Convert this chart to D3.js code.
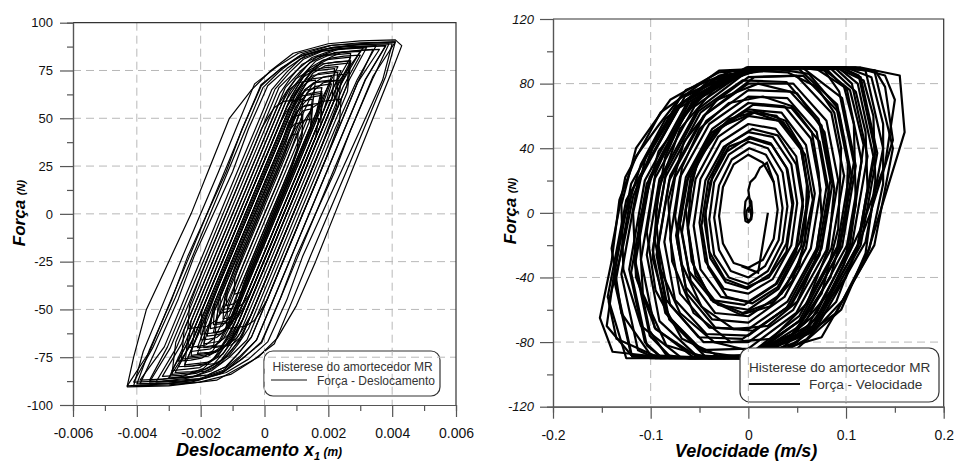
<!DOCTYPE html>
<html>
<head>
<meta charset="utf-8">
<script src="https://cdn.jsdelivr.net/npm/d3@7"></script>
<style>
  body { margin: 0; background: #fff; }
  text { font-family: "Liberation Sans", Arial, sans-serif; }
</style>
</head>
<body>
<div id="chart"></div>
<script>
var w = 956;
var h = 461;

// axis ticks
var dispTicks = [-0.006, -0.004, -0.002, 0, 0.002, 0.004, 0.006];
var dispMinor = [-0.005, -0.003, -0.001, 0.001, 0.003, 0.005];
var dispGrid = [-0.004, -0.002, 0, 0.002, 0.004];
var forceTicksL = [-100, -75, -50, -25, 0, 25, 50, 75, 100];
var forceMinorL = [-87.5, -62.5, -37.5, -12.5, 12.5, 37.5, 62.5, 87.5];
var forceGridL = [-75, -50, -25, 0, 25, 50, 75];

var velTicks = [-0.2, -0.1, 0, 0.1, 0.2];
var velMinor = [-0.15, -0.05, 0.05, 0.15];
var velGrid = [-0.1, 0, 0.1];
var forceTicksR = [-120, -80, -40, 0, 40, 80, 120];
var forceMinorR = [-100, -60, -20, 20, 60, 100];
var forceGridR = [-80, -40, 0, 40, 80];

// força x deslocamento loops [x1 (m), F (N)]
var dispLoops = [
  [[-0.0043,-90],[-0.0041,-75],[-0.0037,-50],[-0.0030,-25],[-0.0023,0],[-0.0017,25],[-0.0011,50],[-0.0004,65],[0.0002,75],[0.0009,84],[0.0020,89],[0.0030,90.5],[0.0041,91],[0.0043,88],[0.0040,75],[0.0034,50],[0.0028,25],[0.0022,0],[0.0016,-25],[0.0010,-48],[0.0004,-65],[-0.0002,-75],[-0.0015,-87],[-0.0030,-90],[-0.0043,-90.5]],
  [[-0.0041,-90],[-0.0038,-72],[-0.00313,-45],[-0.00256,-22],[-0.0020,0],[-0.00144,22],[-0.00088,45],[-0.00031,68],[0.00039,77],[0.00106,84],[0.00203,88],[0.00299,89.5],[0.0041,90],[0.0038,72],[0.00313,45],[0.00256,22],[0.0020,0],[0.00144,-22],[0.00088,-45],[0.00031,-68],[-0.00039,-77],[-0.00106,-84],[-0.00203,-88],[-0.00299,-89.5]],
  [[-0.0040,-89],[-0.0036,-71],[-0.0029,-44.5],[-0.0024,-22],[-0.0018,0],[-0.0012,22],[-0.0007,44.5],[-0.0001,67],[0.0005,76],[0.0012,83],[0.0021,87],[0.0030,88.5],[0.0040,89],[0.0037,70],[0.0030,44],[0.0024,22],[0.0018,0],[0.0012,-22],[0.0007,-45],[0.0001,-67],[-0.0005,-76],[-0.0012,-83],[-0.0021,-87],[-0.0030,-88.5]],
  [[-0.0039,-89],[-0.0034,-71],[-0.0027,-44.5],[-0.0022,-22],[-0.0016,0],[-0.0010,22],[-0.0005,44.5],[0.0001,67],[0.0007,76],[0.0013,83],[0.0021,87],[0.0029,88.5],[0.0039,89],[0.0034,71],[0.0027,44],[0.0022,22],[0.0016,0],[0.0010,-22],[0.0005,-44],[-0.0001,-67],[-0.0007,-76],[-0.0013,-83],[-0.0021,-87],[-0.0029,-88.5]],
  [[-0.0041,-88],[-0.0035,-70],[-0.0028,-44],[-0.00225,-22],[-0.0017,0],[-0.00115,22],[-0.0006,44],[-0.00005,66],[0.0005,75],[0.00105,82],[0.0018,86],[0.0026,87.5],[0.0035,88],[0.0029,70],[0.0022,44],[0.00165,22],[0.0011,0],[0.00055,-22],[0.0,-44],[-0.00055,-66],[-0.0011,-75],[-0.00165,-82],[-0.0024,-86],[-0.0032,-87.5]],
  [[-0.0034,-88],[-0.00276,-70],[-0.0021,-44],[-0.00155,-22],[-0.0010,0],[-0.00045,22],[0.0001,44],[0.00065,66],[0.00115,75],[0.00163,82],[0.0023,86],[0.0030,87.5],[0.0038,88],[0.00316,70],[0.0025,44],[0.00195,22],[0.0014,0],[0.00085,-22],[0.0003,-44],[-0.00025,-66],[-0.00075,-75],[-0.00123,-82],[-0.0019,-86],[-0.0026,-87.5]],
  [[-0.0039,-87],[-0.00314,-69.6],[-0.00249,-43.5],[-0.00194,-21.75],[-0.0014,0],[-0.00086,21.75],[-0.00031,43.5],[0.00023,65],[0.00069,74],[0.00112,81],[0.00175,85],[0.00238,86.5],[0.0031,87],[0.00234,69.6],[0.00169,43.5],[0.00114,21.75],[0.0006,0],[0.00006,-21.75],[-0.00049,-43.5],[-0.00103,-65],[-0.00149,-74],[-0.00192,-81],[-0.00255,-85],[-0.00318,-86.5]],
  [[-0.0030,-86],[-0.00232,-68.8],[-0.00168,-43],[-0.00114,-21.5],[-0.0006,0],[-0.00006,21.5],[0.00048,43],[0.00101,64.5],[0.00142,73],[0.00181,80],[0.00238,84.3],[0.00295,85.5],[0.0036,86],[0.00292,68.8],[0.00228,43],[0.00174,21.5],[0.0012,0],[0.00066,-21.5],[0.00013,-43],[-0.00041,-64.5],[-0.00082,-73],[-0.00121,-80],[-0.00178,-84.3],[-0.00235,-85.5]],
  [[-0.0032,-85],[-0.0026,-68],[-0.00196,-42.5],[-0.00143,-21.25],[-0.0009,0],[-0.00037,21.25],[0.00016,42.5],[0.00069,63.75],[0.00106,72.25],[0.00141,79],[0.00191,83.3],[0.00242,84.5],[0.0030,85],[0.0024,68],[0.00176,42.5],[0.00123,21.25],[0.0007,0],[0.00017,-21.25],[-0.00036,-42.5],[-0.00089,-63.75],[-0.00126,-72.25],[-0.00161,-79],[-0.00211,-83.3],[-0.00262,-84.5]],
  [[-0.0028,-83],[-0.00226,-66.4],[-0.00164,-41.5],[-0.00112,-20.75],[-0.0006,0],[-0.00008,20.75],[0.00044,41.5],[0.00096,62.25],[0.00129,70.5],[0.00159,77.2],[0.00204,81.3],[0.00249,82.5],[0.0030,83],[0.00246,66.4],[0.00184,41.5],[0.00132,20.75],[0.0008,0],[0.00028,-20.75],[-0.00024,-41.5],[-0.00076,-62.25],[-0.00109,-70.5],[-0.00139,-77.2],[-0.00184,-81.3],[-0.00229,-82.5]],
  [[-0.0027,-80],[-0.0022,-64],[-0.0016,-40],[-0.0011,-20],[-0.0006,0],[-0.0001,20],[0.0004,40],[0.0009,60],[0.00119,68],[0.00146,74.4],[0.00185,78.4],[0.00225,79.5],[0.0027,80],[0.0022,64],[0.0016,40],[0.0011,20],[0.0006,0],[0.0001,-20],[-0.0004,-40],[-0.0009,-60],[-0.00119,-68],[-0.00146,-74.4],[-0.00185,-78.4],[-0.00225,-79.5]],
  [[-0.0027,-77],[-0.00224,-61.6],[-0.00166,-38.5],[-0.00118,-19.25],[-0.0007,0],[-0.00022,19.25],[0.00026,38.5],[0.00074,57.75],[0.00099,65.5],[0.00122,71.6],[0.00157,75.5],[0.00191,76.5],[0.0023,77],[0.00184,61.6],[0.00126,38.5],[0.00078,19.25],[0.0003,0],[-0.00018,-19.25],[-0.00066,-38.5],[-0.00114,-57.75],[-0.00139,-65.5],[-0.00162,-71.6],[-0.00197,-75.5],[-0.00231,-76.5]],
  [[-0.0021,-73],[-0.00176,-58.4],[-0.00121,-36.5],[-0.00076,-18.25],[-0.0003,0],[0.00016,18.25],[0.00061,36.5],[0.00107,54.75],[0.0013,62],[0.00151,67.9],[0.00183,71.5],[0.00214,72.5],[0.0025,73],[0.00216,58.4],[0.00161,36.5],[0.00116,18.25],[0.0007,0],[0.00024,-18.25],[-0.00021,-36.5],[-0.00067,-54.75],[-0.0009,-62],[-0.00111,-67.9],[-0.00143,-71.5],[-0.00174,-72.5]],
  [[-0.0021,-70],[-0.0018,-56],[-0.00128,-35],[-0.00084,-17.5],[-0.0004,0],[0.00004,17.5],[0.00048,35],[0.00091,52.5],[0.0011,59.5],[0.00128,65.1],[0.00154,68.6],[0.0018,69.5],[0.0021,70],[0.0018,56],[0.00128,35],[0.00084,17.5],[0.0004,0],[-0.00004,-17.5],[-0.00048,-35],[-0.00091,-52.5],[-0.0011,-59.5],[-0.00128,-65.1],[-0.00154,-68.6],[-0.0018,-69.5]],
  [[-0.0020,-66],[-0.00182,-52.8],[-0.00133,-33],[-0.00091,-16.5],[-0.0005,0],[-0.00009,16.5],[0.00033,33],[0.00074,49.5],[0.00091,56.1],[0.00107,61.4],[0.0013,64.7],[0.00154,65.5],[0.0018,66],[0.00162,52.8],[0.00113,33],[0.00071,16.5],[0.0003,0],[-0.00011,-16.5],[-0.00053,-33],[-0.00094,-49.5],[-0.00111,-56.1],[-0.00127,-61.4],[-0.0015,-64.7],[-0.00174,-65.5]],
  [[-0.0016,-62],[-0.00144,-49.6],[-0.00098,-31],[-0.00059,-15.5],[-0.0002,0],[0.00019,15.5],[0.00058,31],[0.00096,46.5],[0.00109,52.7],[0.00122,57.7],[0.00141,60.8],[0.00159,61.5],[0.0018,62],[0.00164,49.6],[0.00118,31],[0.00079,15.5],[0.0004,0],[0.00001,-15.5],[-0.00038,-31],[-0.00076,-46.5],[-0.00089,-52.7],[-0.00102,-57.7],[-0.00121,-60.8],[-0.00139,-61.5]],
  [[-0.0015,-57],[-0.00144,-45.6],[-0.00101,-28.5],[-0.00066,-14.25],[-0.0003,0],[0.00006,14.25],[0.00041,28.5],[0.00077,42.75],[0.00089,48.5],[0.001,53],[0.00116,55.9],[0.00132,56.5],[0.0015,57],[0.00144,45.6],[0.00101,28.5],[0.00066,14.25],[0.0003,0],[-0.00006,-14.25],[-0.00041,-28.5],[-0.00077,-42.75],[-0.00089,-48.5],[-0.001,-53],[-0.00116,-55.9],[-0.00132,-56.5]],
  [[-0.0014,-52],[-0.00138,-41.6],[-0.00105,-26],[-0.00073,-13],[-0.0004,0],[-0.00008,13],[0.00025,26],[0.00058,39],[0.00068,44.2],[0.00077,48.4],[0.00091,51],[0.00105,51.5],[0.0012,52],[0.00118,41.6],[0.00085,26],[0.00053,13],[0.0002,0],[-0.00013,-13],[-0.00045,-26],[-0.00078,-39],[-0.00088,-44.2],[-0.00097,-48.4],[-0.00111,-51],[-0.00125,-51.5]],
  [[-0.0043,-90],[-0.0036,-72],[-0.00293,-45],[-0.00236,-22.5],[-0.0018,0],[-0.00124,22.5],[-0.00068,45],[-0.00011,67.5],[0.00056,76.5],[0.00119,83.7],[0.00212,88.2],[0.00305,89.1],[0.0041,90],[0.0034,72],[0.00273,45],[0.00216,22.5],[0.0016,0],[0.00104,-22.5],[0.00048,-45],[-0.00009,-67.5],[-0.00076,-76.5],[-0.00139,-83.7],[-0.00232,-88.2],[-0.00325,-89.1]],
  [[-0.0036,-88],[-0.00296,-70.4],[-0.0023,-44],[-0.00175,-22],[-0.0012,0],[-0.00065,22],[-0.0001,44],[0.00045,66],[0.00099,74.8],[0.00149,81.8],[0.00223,86.2],[0.00296,87.1],[0.0038,88],[0.00316,70.4],[0.0025,44],[0.00195,22],[0.0014,0],[0.00085,-22],[0.0003,-44],[-0.00025,-66],[-0.00079,-74.8],[-0.00129,-81.8],[-0.00203,-86.2],[-0.00276,-87.1]],
  [[-0.0036,-87],[-0.00304,-69.6],[-0.00239,-43.5],[-0.00184,-21.75],[-0.0013,0],[-0.00076,21.75],[-0.00021,43.5],[0.00033,65.25],[0.00079,74],[0.00122,80.9],[0.00185,85.3],[0.00248,86.1],[0.0032,87],[0.00264,69.6],[0.00199,43.5],[0.00144,21.75],[0.0009,0],[0.00036,-21.75],[-0.00019,-43.5],[-0.00073,-65.25],[-0.00119,-74],[-0.00162,-80.9],[-0.00225,-85.3],[-0.00288,-86.1]],
  [[-0.0030,-86],[-0.00252,-68.8],[-0.00188,-43],[-0.00134,-21.5],[-0.0008,0],[-0.00026,21.5],[0.00028,43],[0.00081,64.5],[0.00122,73.1],[0.00161,80],[0.00218,84.3],[0.00275,85.1],[0.0034,86],[0.00292,68.8],[0.00228,43],[0.00174,21.5],[0.0012,0],[0.00066,-21.5],[0.00013,-43],[-0.00041,-64.5],[-0.00082,-73.1],[-0.00121,-80],[-0.00178,-84.3],[-0.00235,-85.1]],
  [[-0.0029,-82],[-0.00234,-65.6],[-0.00173,-41],[-0.00121,-20.5],[-0.0007,0],[-0.00019,20.5],[0.00033,41],[0.00084,61.5],[0.00114,69.7],[0.00142,76.3],[0.00183,80.4],[0.00224,81.2],[0.0027,82],[0.00214,65.6],[0.00153,41],[0.00101,20.5],[0.0005,0],[-0.00001,-20.5],[-0.00053,-41],[-0.00104,-61.5],[-0.00134,-69.7],[-0.00162,-76.3],[-0.00203,-80.4],[-0.00244,-81.2]],
  [[-0.0025,-79],[-0.00208,-63.2],[-0.00149,-39.5],[-0.00099,-19.75],[-0.0005,0],[-0.00001,19.75],[0.00049,39.5],[0.00098,59.25],[0.00126,67.2],[0.00151,73.5],[0.00189,77.4],[0.00227,78.2],[0.0027,79],[0.00228,63.2],[0.00169,39.5],[0.00119,19.75],[0.0007,0],[0.00021,-19.75],[-0.00029,-39.5],[-0.00078,-59.25],[-0.00106,-67.2],[-0.00131,-73.5],[-0.00169,-77.4],[-0.00207,-78.2]],
  [[-0.0024,-75],[-0.002,-60],[-0.00144,-37.5],[-0.00097,-18.75],[-0.0005,0],[-0.00003,18.75],[0.00044,37.5],[0.00091,56.25],[0.00115,63.75],[0.00137,69.75],[0.0017,73.5],[0.00203,74.25],[0.0024,75],[0.002,60],[0.00144,37.5],[0.00097,18.75],[0.0005,0],[0.00003,-18.75],[-0.00044,-37.5],[-0.00091,-56.25],[-0.00115,-63.75],[-0.00137,-69.75],[-0.0017,-73.5],[-0.00203,-74.25]],
  [[-0.0023,-72],[-0.00199,-57.6],[-0.00145,-36],[-0.001,-18],[-0.00055,0],[-0.0001,18],[0.00035,36],[0.0008,54],[0.00101,61.2],[0.0012,67],[0.00149,70.6],[0.00178,71.3],[0.0021,72],[0.00179,57.6],[0.00125,36],[0.0008,18],[0.00035,0],[-0.0001,-18],[-0.00055,-36],[-0.001,-54],[-0.00121,-61.2],[-0.0014,-67],[-0.00169,-70.6],[-0.00198,-71.3]],
  [[-0.0019,-68],[-0.00166,-54.4],[-0.00115,-34],[-0.00073,-17],[-0.0003,0],[0.00013,17],[0.00055,34],[0.00098,51],[0.00116,57.8],[0.00133,63.2],[0.00158,66.6],[0.00182,67.3],[0.0021,68],[0.00186,54.4],[0.00135,34],[0.00093,17],[0.0005,0],[0.00008,-17],[-0.00035,-34],[-0.00078,-51],[-0.00096,-57.8],[-0.00113,-63.2],[-0.00138,-66.6],[-0.00162,-67.3]],
  [[-0.0018,-64],[-0.00163,-51.2],[-0.00115,-32],[-0.00075,-16],[-0.00035,0],[0.00005,16],[0.00045,32],[0.00085,48],[0.001,54.4],[0.00114,59.5],[0.00135,62.7],[0.00156,63.4],[0.0018,64],[0.00163,51.2],[0.00115,32],[0.00075,16],[0.00035,0],[-0.00005,-16],[-0.00045,-32],[-0.00085,-48],[-0.001,-54.4],[-0.00114,-59.5],[-0.00135,-62.7],[-0.00156,-63.4]],
  [[-0.0017,-60],[-0.0016,-48],[-0.00115,-30],[-0.00078,-15],[-0.0004,0],[-0.00003,15],[0.00035,30],[0.00073,45],[0.00085,51],[0.00097,55.8],[0.00114,58.8],[0.00131,59.4],[0.0015,60],[0.0014,48],[0.00095,30],[0.00058,15],[0.0002,0],[-0.00018,-15],[-0.00055,-30],[-0.00093,-45],[-0.00105,-51],[-0.00117,-55.8],[-0.00134,-58.8],[-0.00151,-59.4]],
  [[-0.0013,-55],[-0.00125,-44],[-0.00084,-27.5],[-0.00049,-13.75],[-0.00015,0],[0.00019,13.75],[0.00054,27.5],[0.00088,41.25],[0.00098,46.75],[0.00107,51.2],[0.00121,53.9],[0.00135,54.5],[0.0015,55],[0.00145,44],[0.00104,27.5],[0.00069,13.75],[0.00035,0],[0.00001,-13.75],[-0.00034,-27.5],[-0.00068,-41.25],[-0.00078,-46.75],[-0.00087,-51.2],[-0.00101,-53.9],[-0.00115,-54.5]],
  [[-0.0012,-48],[-0.00116,-38.4],[-0.00085,-24],[-0.00055,-12],[-0.00025,0],[0.00005,12],[0.00035,24],[0.00065,36],[0.00074,40.8],[0.00082,44.6],[0.00094,47],[0.00106,47.5],[0.0012,48],[0.00116,38.4],[0.00085,24],[0.00055,12],[0.00025,0],[-0.00005,-12],[-0.00035,-24],[-0.00065,-36],[-0.00074,-40.8],[-0.00082,-44.6],[-0.00094,-47],[-0.00106,-47.5]],
  [[-0.00095,-42],[-0.00093,-33.6],[-0.00068,-21],[-0.00041,-10.5],[-0.00015,0],[0.00011,10.5],[0.00038,21],[0.00064,31.5],[0.00071,35.7],[0.00077,39],[0.00086,41.2],[0.00095,41.6],[0.00105,42],[0.00103,33.6],[0.00078,21],[0.00051,10.5],[0.00025,0],[-0.00001,-10.5],[-0.00028,-21],[-0.00054,-31.5],[-0.00061,-35.7],[-0.00067,-39],[-0.00076,-41.2],[-0.00085,-41.6]],
  [[-0.0026,-76],[-0.00252,-60.8],[-0.00195,-38],[-0.00148,-19],[-0.001,0],[-0.00053,19],[-0.00005,38],[0.00043,57],[0.00071,64.6],[0.00098,70.7],[0.00137,74.5],[0.00176,75.2],[0.0022,76],[0.00212,60.8],[0.00155,38],[0.00108,19],[0.0006,0],[0.00013,-19],[-0.00035,-38],[-0.00083,-57],[-0.00111,-64.6],[-0.00138,-70.7],[-0.00177,-74.5],[-0.00216,-75.2]],
  [[-0.0019,-70],[-0.00185,-56],[-0.00138,-35],[-0.00094,-17.5],[-0.0005,0],[-0.00006,17.5],[0.00038,35],[0.00081,52.5],[0.00105,59.5],[0.00127,65.1],[0.0016,68.6],[0.00193,69.3],[0.0023,70],[0.00225,56],[0.00178,35],[0.00134,17.5],[0.0009,0],[0.00046,-17.5],[0.00003,-35],[-0.00041,-52.5],[-0.00065,-59.5],[-0.00087,-65.1],[-0.0012,-68.6],[-0.00153,-69.3]],
  [[-0.002,-63],[-0.00196,-50.4],[-0.00149,-31.5],[-0.00109,-15.75],[-0.0007,0],[-0.00031,15.75],[0.00009,31.5],[0.00048,47.25],[0.00069,53.55],[0.00089,58.6],[0.00118,61.7],[0.00147,62.4],[0.0018,63],[0.00176,50.4],[0.00129,31.5],[0.00089,15.75],[0.0005,0],[0.00011,-15.75],[-0.00029,-31.5],[-0.00068,-47.25],[-0.00089,-53.55],[-0.00109,-58.6],[-0.00138,-61.7],[-0.00167,-62.4]],
  [[-0.0016,-58],[-0.00156,-46.4],[-0.00113,-29],[-0.00076,-14.5],[-0.0004,0],[-0.00004,14.5],[0.00033,29],[0.00069,43.5],[0.00087,49.3],[0.00103,53.9],[0.00128,56.8],[0.00152,57.4],[0.0018,58],[0.00176,46.4],[0.00133,29],[0.00096,14.5],[0.0006,0],[0.00024,-14.5],[-0.00013,-29],[-0.00049,-43.5],[-0.00067,-49.3],[-0.00083,-53.9],[-0.00108,-56.8],[-0.00132,-57.4]],
  [[-0.0025,-80],[-0.0024,-64],[-0.0018,-40],[-0.0013,-20],[-0.0008,0],[-0.0003,20],[0.0002,40],[0.0007,60],[0.00102,68],[0.00132,74.4],[0.00176,78.4],[0.0022,79.2],[0.0027,80],[0.0026,64],[0.002,40],[0.0015,20],[0.001,0],[0.0005,-20],[0.0,-40],[-0.0005,-60],[-0.00082,-68],[-0.00112,-74.4],[-0.00156,-78.4],[-0.002,-79.2]],
  [[-0.0029,-84],[-0.00278,-67.2],[-0.00215,-42],[-0.00163,-21],[-0.0011,0],[-0.00058,21],[-0.00005,42],[0.00048,63],[0.00083,71.4],[0.00117,78.1],[0.00166,82.3],[0.00214,83.2],[0.0027,84],[0.00258,67.2],[0.00195,42],[0.00143,21],[0.0009,0],[0.00038,-21],[-0.00015,-42],[-0.00068,-63],[-0.00103,-71.4],[-0.00137,-78.1],[-0.00186,-82.3],[-0.00234,-83.2]],
  [[-0.0023,-74],[-0.00218,-59.2],[-0.00163,-37],[-0.00116,-18.5],[-0.0007,0],[-0.00024,18.5],[0.00023,37],[0.00069,55.5],[0.00095,62.9],[0.00119,68.8],[0.00154,72.5],[0.0019,73.3],[0.0023,74],[0.00218,59.2],[0.00163,37],[0.00116,18.5],[0.0007,0],[0.00024,-18.5],[-0.00023,-37],[-0.00069,-55.5],[-0.00095,-62.9],[-0.00119,-68.8],[-0.00154,-72.5],[-0.0019,-73.3]],
  [[-0.0012,-60],[-0.00115,-48],[-0.00075,-30],[-0.00038,-15],[0.0,0],[0.00038,15],[0.00075,30],[0.00113,45],[0.00133,51],[0.00152,55.8],[0.0018,58.8],[0.00208,59.4],[0.0024,60],[0.00235,48],[0.00195,30],[0.00158,15],[0.0012,0],[0.00083,-15],[0.00045,-30],[0.00008,-45],[-0.00013,-51],[-0.00032,-55.8],[-0.0006,-58.8],[-0.00088,-59.4]],
  [[-0.0024,-60],[-0.00235,-48],[-0.00195,-30],[-0.00158,-15],[-0.0012,0],[-0.00083,15],[-0.00045,30],[-0.00008,45],[0.00013,51],[0.00032,55.8],[0.0006,58.8],[0.00088,59.4],[0.0012,60],[0.00115,48],[0.00075,30],[0.00038,15],[0.0,0],[-0.00038,-15],[-0.00075,-30],[-0.00113,-45],[-0.00133,-51],[-0.00152,-55.8],[-0.0018,-58.8],[-0.00208,-59.4]],
  [[-0.0016,-70],[-0.0015,-56],[-0.00098,-35],[-0.00054,-17.5],[-0.0001,0],[0.00034,17.5],[0.00078,35],[0.00121,52.5],[0.0014,59.5],[0.00158,65.1],[0.00184,68.6],[0.0021,69.3],[0.0024,70],[0.0023,56],[0.00178,35],[0.00134,17.5],[0.0009,0],[0.00046,-17.5],[0.00003,-35],[-0.00041,-52.5],[-0.0006,-59.5],[-0.00078,-65.1],[-0.00104,-68.6],[-0.0013,-69.3]],
  [[-0.0024,-70],[-0.0023,-56],[-0.00178,-35],[-0.00134,-17.5],[-0.0009,0],[-0.00046,17.5],[-0.00003,35],[0.00041,52.5],[0.0006,59.5],[0.00078,65.1],[0.00104,68.6],[0.0013,69.3],[0.0016,70],[0.0015,56],[0.00098,35],[0.00054,17.5],[0.0001,0],[-0.00034,-17.5],[-0.00078,-35],[-0.00121,-52.5],[-0.0014,-59.5],[-0.00158,-65.1],[-0.00184,-68.6],[-0.0021,-69.3]],
  [[-0.0013,-50],[-0.0012,-40],[-0.00083,-25],[-0.00051,-12.5],[-0.0002,0],[0.00011,12.5],[0.00043,25],[0.00074,37.5],[0.00089,42.5],[0.00104,46.5],[0.00125,49],[0.00146,49.5],[0.0017,50],[0.0016,40],[0.00123,25],[0.00091,12.5],[0.0006,0],[0.00029,-12.5],[-0.00003,-25],[-0.00034,-37.5],[-0.00049,-42.5],[-0.00064,-46.5],[-0.00085,-49],[-0.00106,-49.5]]
];

// força x velocidade loops [v (m/s), F (N)]
var velLoops = [
  [[0.030,2],[0.026,19],[0.015,31],[0.000,36],[-0.015,30],[-0.026,16],[-0.030,-2],[-0.026,-19],[-0.015,-31],[0.000,-34],[0.015,-29],[0.026,-16]],
  [[0.035,3],[0.030,23],[0.018,36],[0.001,40],[-0.017,33],[-0.030,17],[-0.035,-3],[-0.030,-23],[-0.018,-36],[0.000,-40],[0.017,-33],[0.031,-17]],
  [[0.040,4],[0.035,25],[0.020,40],[0.000,44],[-0.020,36],[-0.035,19],[-0.040,-4],[-0.035,-26],[-0.020,-40],[0.000,-44],[0.020,-36],[0.035,-18]],
  [[0.045,5],[0.039,28],[0.023,43],[0.001,47],[-0.022,38],[-0.039,19],[-0.045,-5],[-0.039,-28],[-0.023,-43],[-0.001,-47],[0.022,-38],[0.039,-19]],
  [[0.050,6],[0.044,30],[0.025,47],[0.000,50],[-0.025,41],[-0.044,20],[-0.050,-6],[-0.044,-30],[-0.025,-47],[0.000,-50],[0.025,-41],[0.044,-20]],
  [[0.056,8],[0.049,35],[0.028,52],[0.000,55],[-0.028,44],[-0.049,21],[-0.056,-8],[-0.049,-35],[-0.028,-52],[0.000,-55],[0.028,-44],[0.049,-21]],
  [[0.062,10],[0.054,39],[0.031,57],[0.000,60],[-0.031,47],[-0.054,21],[-0.062,-10],[-0.054,-39],[-0.031,-57],[0.000,-60],[0.031,-47],[0.054,-21]],
  [[0.068,12],[0.059,42],[0.034,62],[0.000,64],[-0.034,50],[-0.059,22],[-0.068,-12],[-0.059,-42],[-0.034,-62],[0.000,-64],[0.034,-50],[0.059,-22]],
  [[0.074,14],[0.064,46],[0.037,66],[0.000,68],[-0.037,52],[-0.064,22],[-0.074,-14],[-0.064,-46],[-0.037,-66],[0.000,-68],[0.037,-52],[0.064,-22]],
  [[0.080,16],[0.070,50],[0.040,71],[0.000,72],[-0.040,55],[-0.070,22],[-0.080,-16],[-0.070,-50],[-0.040,-71],[0.000,-72],[0.040,-55],[0.070,-22]],
  [[0.086,18],[0.075,54],[0.043,75],[0.000,76],[-0.043,57],[-0.075,22],[-0.086,-18],[-0.075,-54],[-0.043,-75],[0.000,-76],[0.043,-57],[0.075,-22]],
  [[0.092,20],[0.080,57],[0.046,80],[0.000,80],[-0.046,60],[-0.080,23],[-0.092,-20],[-0.080,-57],[-0.046,-80],[0.000,-80],[0.046,-60],[0.080,-23]],
  [[0.098,23],[0.085,62],[0.049,85],[0.000,84],[-0.049,62],[-0.085,22],[-0.098,-23],[-0.085,-62],[-0.049,-85],[0.000,-84],[0.049,-62],[0.085,-22]],
  [[0.104,26],[0.091,67],[0.052,89],[0.000,88],[-0.052,64],[-0.091,21],[-0.104,-26],[-0.091,-67],[-0.052,-89],[0.000,-88],[0.052,-64],[0.091,-21]],
  [[0.110,29],[0.096,71],[0.055,90],[0.000,89],[-0.055,66],[-0.096,21],[-0.110,-29],[-0.096,-71],[-0.055,-90],[0.000,-89],[0.055,-66],[0.096,-21]],
  [[0.116,32],[0.101,76],[0.080,89],[0.058,90],[0.000,90],[-0.058,68],[-0.101,20],[-0.116,-32],[-0.101,-76],[-0.080,-89],[-0.058,-90],[0.000,-90],[0.058,-68],[0.101,-20]],
  [[0.122,35],[0.106,80],[0.090,89],[0.061,90],[0.000,90],[-0.061,70],[-0.106,20],[-0.122,-35],[-0.106,-80],[-0.090,-89],[-0.061,-90],[0.000,-90],[0.061,-70],[0.106,-20]],
  [[0.130,38],[0.113,85],[0.095,90],[0.065,90],[0.000,90],[-0.065,72],[-0.113,19],[-0.130,-38],[-0.113,-85],[-0.095,-90],[-0.065,-90],[0.000,-90],[0.065,-72],[0.113,-19]],
  [[0.138,40],[0.120,88],[0.100,90],[0.069,90],[0.000,90],[-0.069,72],[-0.120,18],[-0.138,-40],[-0.120,-88],[-0.100,-90],[-0.069,-90],[0.000,-90],[0.069,-72],[0.120,-18]],
  [[0.155,85],[0.160,50],[0.120,-29],[0.097,-54],[0.060,-78],[0.030,-88],[-0.020,-90],[-0.080,-90],[-0.139,-86],[-0.152,-65],[-0.140,-30],[-0.132,8],[-0.115,35],[-0.091,55],[-0.064,76],[-0.016,88],[0.050,90],[0.115,90]],
  [[0.140,78],[0.148,45],[0.125,0],[0.100,-40],[0.060,-72],[0.010,-88],[-0.060,-90],[-0.120,-88],[-0.145,-70],[-0.138,-40],[-0.128,-5],[-0.110,30],[-0.085,58],[-0.040,82],[0.020,89],[0.090,90],[0.130,88]],
  [[0.150,70],[0.140,30],[0.115,-10],[0.085,-48],[0.045,-76],[-0.010,-89],[-0.090,-90],[-0.135,-78],[-0.143,-55],[-0.128,-20],[-0.118,10],[-0.098,40],[-0.072,66],[-0.030,84],[0.040,90],[0.110,90],[0.140,85]],
  [[0.056,4],[0.049,30],[0.030,48],[0.004,52],[-0.022,42],[-0.041,20],[-0.048,-8],[-0.041,-34],[-0.022,-52],[0.004,-56],[0.030,-46],[0.049,-24]],
  [[0.062,13],[0.053,42],[0.029,60],[-0.004,63],[-0.037,50],[-0.061,24],[-0.070,-7],[-0.061,-36],[-0.037,-54],[-0.004,-57],[0.029,-44],[0.053,-18]],
  [[0.083,11],[0.073,44],[0.044,65],[0.005,67],[-0.034,51],[-0.063,20],[-0.073,-17],[-0.063,-50],[-0.034,-71],[0.005,-73],[0.044,-57],[0.073,-26]],
  [[0.084,20],[0.072,58],[0.039,81],[-0.006,82],[-0.051,63],[-0.084,26],[-0.096,-16],[-0.084,-54],[-0.051,-77],[-0.006,-78],[0.039,-59],[0.072,-22]],
  [[0.106,22],[0.093,62],[0.056,85],[0.006,84],[-0.044,61],[-0.081,20],[-0.094,-26],[-0.081,-66],[-0.044,-89],[0.006,-88],[0.056,-65],[0.093,-24]],
  [[0.108,31],[0.093,75],[0.078,88],[0.052,90],[-0.004,89],[-0.060,69],[-0.101,22],[-0.116,-29],[-0.101,-73],[-0.084,-88],[-0.060,-90],[-0.004,-90],[0.052,-67],[0.093,-20]],
  [[0.128,35],[0.112,80],[0.094,89],[0.066,90],[0.004,90],[-0.058,68],[-0.104,18],[-0.120,-37],[-0.104,-82],[-0.090,-89],[-0.058,-90],[0.004,-90],[0.066,-70],[0.112,-20]],
  [[0.132,37],[0.115,84],[0.095,90],[0.065,90],[-0.002,90],[-0.069,68],[-0.119,14],[-0.136,-43],[-0.119,-89],[-0.069,-90],[-0.002,-90],[0.065,-74],[0.115,-20]],
  [[0.148,40],[0.129,88],[0.075,90],[0.002,90],[-0.071,65],[-0.125,8],[-0.144,-52],[-0.125,-90],[-0.071,-90],[0.002,-90],[0.075,-77],[0.129,-20]],
  [[0.095,40],[0.088,62],[0.070,78],[0.040,87],[0.000,88],[-0.035,80],[-0.065,62],[-0.085,35],[-0.095,0],[-0.090,-35],[-0.070,-62],[-0.035,-80],[0.005,-86],[0.045,-75],[0.075,-50],[0.092,-10]],
  [[0.120,50],[0.110,75],[0.085,89],[0.030,90],[-0.030,85],[-0.075,65],[-0.105,35],[-0.118,0],[-0.115,-40],[-0.095,-72],[-0.055,-88],[0.000,-90],[0.050,-80],[0.090,-55],[0.112,-20],[0.122,15]],
  [[0.072,25],[0.065,50],[0.045,66],[0.015,72],[-0.020,68],[-0.050,52],[-0.068,28],[-0.075,-2],[-0.068,-32],[-0.048,-58],[-0.015,-72],[0.020,-70],[0.050,-55],[0.068,-30],[0.075,-2]],
  [[0.060,18],[0.055,40],[0.038,57],[0.010,63],[-0.020,58],[-0.045,42],[-0.058,20],[-0.062,-8],[-0.055,-35],[-0.036,-55],[-0.008,-63],[0.022,-58],[0.045,-42],[0.058,-18]],
  [[0.108,55],[0.098,78],[0.070,89],[0.020,90],[-0.030,82],[-0.070,58],[-0.095,25],[-0.104,-12],[-0.095,-48],[-0.068,-78],[-0.025,-90],[0.030,-86],[0.070,-65],[0.098,-32],[0.110,5]],
  [[0.128,60],[0.118,82],[0.090,90],[0.030,90],[-0.030,87],[-0.080,70],[-0.115,40],[-0.130,5],[-0.128,-35],[-0.110,-70],[-0.070,-89],[-0.010,-90],[0.050,-84],[0.095,-60],[0.120,-25],[0.130,20]],
  [[0.066,8],[0.058,36],[0.036,56],[0.006,62],[-0.026,54],[-0.052,32],[-0.064,2],[-0.058,-30],[-0.038,-54],[-0.006,-62],[0.026,-55],[0.052,-33]],
  [[0.088,15],[0.078,50],[0.050,74],[0.010,80],[-0.032,70],[-0.066,44],[-0.082,8],[-0.078,-30],[-0.056,-62],[-0.018,-80],[0.024,-78],[0.060,-56],[0.082,-22]],
  [[0.102,30],[0.090,66],[0.062,86],[0.018,90],[-0.030,80],[-0.070,52],[-0.092,14],[-0.098,-28],[-0.082,-64],[-0.046,-86],[0.002,-90],[0.048,-74],[0.084,-40],[0.100,-4]],
  [[0.046,6],[0.040,27],[0.024,42],[0.002,46],[-0.020,41],[-0.036,25],[-0.044,0],[-0.040,-24],[-0.024,-41],[-0.002,-46],[0.021,-40],[0.039,-24]],
  [[0.118,42],[0.104,76],[0.075,90],[0.010,90],[-0.050,72],[-0.092,38],[-0.112,-6],[-0.108,-50],[-0.084,-82],[-0.040,-90],[0.020,-88],[0.070,-62],[0.104,-20]],
  [[0.138,55],[0.126,84],[0.100,90],[0.040,90],[-0.030,88],[-0.090,62],[-0.126,22],[-0.140,-22],[-0.130,-62],[-0.100,-88],[-0.040,-90],[0.030,-88],[0.090,-62],[0.124,-22],[0.138,18]],
  [[0.004,0],[0.003,7],[0.000,10],[-0.003,7],[-0.004,0],[-0.003,-5],[0.000,-6],[0.003,-4]],
  [[0.003,-2],[0.002,2],[0.000,3],[-0.002,1],[-0.002,-3],[0.000,-5],[0.002,-4]]
];

// trechos abertos (início da resposta)
var velOpen = [
  [[0.000,0],[0.002,5],[0.000,14],[0.002,19],[0.007,22],[0.012,28],[0.019,31],[0.026,19]],
  [[0.020,0],[0.010,-37],[-0.007,-33]]
];

var svg = d3.select("#chart")
            .append("svg")
            .attr("width", w)
            .attr("height", h);

var gridColor = "#b8b8b8";
var axisColor = "#555";

function fmt(d) { return String(d); }

function drawPanel(p) {
  var x = d3.scaleLinear().domain(p.xDomain).range([p.left, p.right]);
  var y = d3.scaleLinear().domain(p.yDomain).range([p.bottom, p.top]);
  var g = svg.append("g");

  function grid(sel) {
    sel.selectAll(".gx")
       .data(p.xGrid)
       .enter()
       .append("line")
       .attr("x1", function(d) { return x(d); })
       .attr("x2", function(d) { return x(d); })
       .attr("y1", p.top)
       .attr("y2", p.bottom)
       .attr("stroke", gridColor)
       .attr("stroke-dasharray", "8,5");
    sel.selectAll(".gy")
       .data(p.yGrid)
       .enter()
       .append("line")
       .attr("x1", p.left)
       .attr("x2", p.right)
       .attr("y1", function(d) { return y(d); })
       .attr("y2", function(d) { return y(d); })
       .attr("stroke", gridColor)
       .attr("stroke-dasharray", "8,5");
  }
  grid(g.append("g"));

  var line = d3.line()
               .x(function(d) { return x(d[0]); })
               .y(function(d) { return y(d[1]); });

  g.selectAll(".loop")
   .data(p.loops)
   .enter()
   .append("path")
   .attr("d", function(d) { return line(d) + "Z"; })
   .attr("fill", "none")
   .attr("stroke", "#000")
   .attr("stroke-width", p.lineWidth)
   .attr("stroke-linejoin", "round");

  g.selectAll(".open")
   .data(p.open)
   .enter()
   .append("path")
   .attr("d", line)
   .attr("fill", "none")
   .attr("stroke", "#000")
   .attr("stroke-width", p.lineWidth);

  // frame
  g.append("path")
   .attr("d", "M" + p.left + "," + p.top + "H" + p.right + "V" + p.bottom)
   .attr("fill", "none")
   .attr("stroke", "#333")
   .attr("stroke-width", 1.2);

  // axes
  var xAxis = g.append("g").attr("transform", "translate(0," + p.bottom + ")");
  xAxis.call(d3.axisBottom(x).tickValues(p.xTicks).tickSize(12).tickSizeOuter(0)
               .tickPadding(p.xPad).tickFormat(fmt));
  xAxis.append("g").call(d3.axisBottom(x).tickValues(p.xMinor).tickSize(6).tickFormat(""));
  xAxis.selectAll("path").attr("stroke", axisColor).attr("stroke-width", 1.2);
  xAxis.selectAll("line").attr("stroke", axisColor).attr("stroke-width", 1.2);
  xAxis.selectAll("text")
       .attr("fill", "#111")
       .style("font-size", "14px");

  var yAxis = g.append("g").attr("transform", "translate(" + p.left + ",0)");
  yAxis.call(d3.axisLeft(y).tickValues(p.yTicks).tickSize(13).tickSizeOuter(0)
               .tickPadding(p.yPad).tickFormat(fmt));
  yAxis.append("g").call(d3.axisLeft(y).tickValues(p.yMinor).tickSize(6).tickFormat(""));
  yAxis.selectAll("path").attr("stroke", axisColor).attr("stroke-width", 1.2);
  yAxis.selectAll("line").attr("stroke", axisColor).attr("stroke-width", 1.2);
  yAxis.selectAll("text")
       .attr("fill", "#111")
       .style("font-size", "13px")
       .style("font-style", p.yItalic ? "italic" : "normal");

  // axis titles
  var yt = g.append("text")
            .attr("transform", "translate(" + p.yTitleX + "," + p.yTitleY + ") rotate(-90)")
            .attr("text-anchor", "middle")
            .style("font-weight", "bold")
            .style("font-style", "italic")
            .style("font-size", "17px");
  yt.append("tspan").text("Força ");
  yt.append("tspan").text("(N)").style("font-size", "11px");

  var xt = g.append("text")
            .attr("x", p.xTitleX)
            .attr("y", p.xTitleY)
            .attr("text-anchor", "middle")
            .style("font-weight", "bold")
            .style("font-style", "italic")
            .style("font-size", "18px");
  p.xTitle.forEach(function(t) {
    xt.append("tspan").text(t.s).style("font-size", t.size + "px").attr("dy", t.dy);
  });

  // legend
  var lg = g.append("g");
  lg.append("rect")
    .attr("x", p.leg.x)
    .attr("y", p.leg.y)
    .attr("width", p.leg.w)
    .attr("height", p.leg.h)
    .attr("rx", p.leg.r)
    .attr("fill", "#fff")
    .attr("stroke", "#333")
    .attr("stroke-width", 1.2);
  svg.append("clipPath")
     .attr("id", p.id)
     .append("rect")
     .attr("x", p.leg.x)
     .attr("y", p.leg.y)
     .attr("width", p.leg.w)
     .attr("height", p.leg.h);
  grid(lg.append("g").attr("clip-path", "url(#" + p.id + ")"));
  lg.append("text")
    .attr("x", p.leg.tx)
    .attr("y", p.leg.t1y)
    .attr("fill", "#333")
    .style("font-size", p.leg.fs + "px")
    .text("Histerese do amortecedor MR");
  lg.append("line")
    .attr("x1", p.leg.lx1)
    .attr("x2", p.leg.lx2)
    .attr("y1", p.leg.ly)
    .attr("y2", p.leg.ly)
    .attr("stroke", "#111")
    .attr("stroke-width", p.leg.lw);
  lg.append("text")
    .attr("x", p.leg.t2x)
    .attr("y", p.leg.t2y)
    .attr("fill", "#333")
    .style("font-size", p.leg.fs + "px")
    .text(p.leg.label);
}

drawPanel({
  id: "clipL",
  xDomain: [-0.006, 0.006], yDomain: [-100, 100],
  left: 73, right: 456, top: 22.7, bottom: 405,
  xTicks: dispTicks, xMinor: dispMinor, xGrid: dispGrid,
  yTicks: forceTicksL, yMinor: forceMinorL, yGrid: forceGridL,
  xPad: 11, yPad: 7, yItalic: false,
  loops: dispLoops, open: [], lineWidth: 1.2,
  yTitleX: 25, yTitleY: 213,
  xTitleX: 259, xTitleY: 456,
  xTitle: [{s: "Deslocamento x", size: 18, dy: 0}, {s: "1", size: 11, dy: 4}, {s: " (m)", size: 12, dy: -4}],
  leg: {x: 264, y: 351, w: 176, h: 45, r: 9, fs: 12, tx: 272.5, t1y: 371,
        lx1: 271, lx2: 307, ly: 380, lw: 1, t2x: 317, t2y: 384.5, label: "Força - Deslocamento"}
});

drawPanel({
  id: "clipR",
  xDomain: [-0.2, 0.2], yDomain: [-120, 120],
  left: 553, right: 943.7, top: 19, bottom: 406.7,
  xTicks: velTicks, xMinor: velMinor, xGrid: velGrid,
  yTicks: forceTicksR, yMinor: forceMinorR, yGrid: forceGridR,
  xPad: 11, yPad: 6, yItalic: true,
  loops: velLoops, open: velOpen, lineWidth: 2.2,
  yTitleX: 516, yTitleY: 211,
  xTitleX: 746, xTitleY: 457,
  xTitle: [{s: "Velocidade (m/s)", size: 18, dy: 0}],
  leg: {x: 740, y: 348, w: 199, h: 54, r: 10, fs: 13.6, tx: 749, t1y: 372,
        lx1: 749, lx2: 800, ly: 384, lw: 2, t2x: 809, t2y: 389, label: "Força - Velocidade"}
});
</script>
</body>
</html>
